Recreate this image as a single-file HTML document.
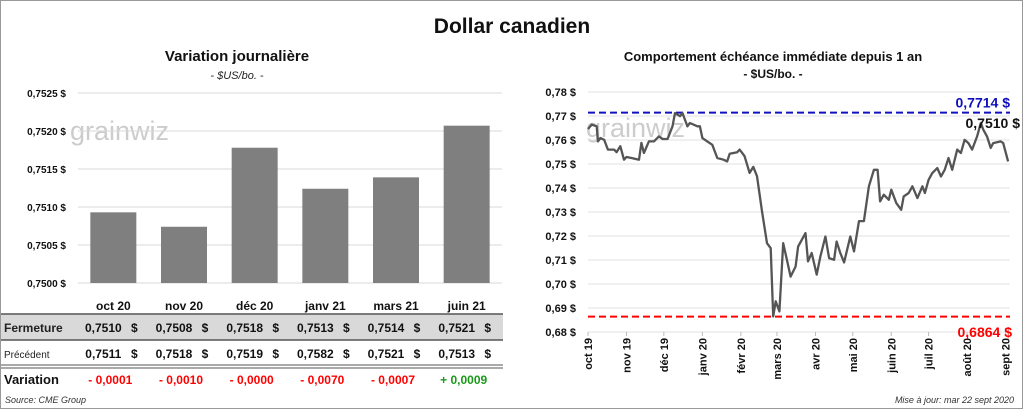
<!DOCTYPE html>
<html><head><meta charset="utf-8"><style>
body{margin:0;width:1024px;height:410px;background:#fff;overflow:hidden;font-family:"Liberation Sans",sans-serif}
svg text{font-family:"Liberation Sans",sans-serif}
</style></head><body>
<svg id="s" width="1024" height="410">
<rect x="0.5" y="0.5" width="1022" height="408" fill="#fff" stroke="#999"/>
<text x="512" y="33" text-anchor="middle" font-size="21" font-weight="bold" fill="#111">Dollar canadien</text>
<text x="237" y="61" text-anchor="middle" font-size="15" font-weight="bold" fill="#111">Variation  journalière</text>
<text x="237" y="79" text-anchor="middle" font-size="11" font-style="italic" fill="#222">- $US/bo. -</text>
<text x="773" y="61" text-anchor="middle" font-size="13" font-weight="bold" fill="#111">Comportement échéance immédiate depuis 1 an</text>
<text x="773" y="78" text-anchor="middle" font-size="12" font-weight="bold" fill="#111">- $US/bo. -</text>
<text x="70" y="140" font-size="27" fill="#ccc">grainwiz</text>
<text x="586" y="137" font-size="27" fill="#ccc">grainwiz</text>
<g id="left"></g><g id="right"></g><g id="table"></g>
<text x="5" y="403" font-size="9" font-style="italic" fill="#333">Source: CME Group</text>
<text x="1014" y="403" text-anchor="end" font-size="9" font-style="italic" fill="#333">Mise à jour: mar 22 sept 2020</text>
</svg>
<script>
const barCats=["oct 20","nov 20","déc 20","janv 21","mars 21","juin 21"];
const barVals=[0.75093,0.75074,0.75178,0.75124,0.75139,0.75207];
const barTicks=[0.7500,0.7505,0.7510,0.7515,0.7520,0.7525];
const closeVals=["0,7510","0,7508","0,7518","0,7513","0,7514","0,7521"];
const prevVals=["0,7511","0,7518","0,7519","0,7582","0,7521","0,7513"];
const varVals=["- 0,0001","- 0,0010","- 0,0000","- 0,0070","- 0,0007","+ 0,0009"];
const lineDays=[0,3,7,8,10,13,16,21,23,26,29,31,35,41,43,45,49,53,57,60,64,68,70,74,76,80,82,88,90,92,96,100,104,109,112,114,120,122,125,126,130,133,136,140,144,147,149,151,154,157,160,163,167,169,172,175,177,180,184,187,191,194,198,200,203,206,211,214,218,222,226,230,233,235,238,242,244,248,252,254,258,261,265,269,271,274,277,281,284,287,290,293,297,300,303,306,309,313,316,318,321,324,326,332,334,338];
const lineVals=[.7646,.7664,.7657,.7594,.7608,.7601,.756,.756,.7549,.7574,.7518,.7529,.7525,.7518,.7588,.7546,.7594,.7594,.7615,.7604,.7604,.7657,.7712,.7699,.7712,.7657,.7671,.7657,.7657,.7608,.7594,.758,.7525,.7518,.7511,.7543,.7549,.756,.7539,.7532,.7463,.7488,.7449,.7303,.717,.7149,.6865,.6928,.6886,.717,.7101,.7031,.7073,.7156,.7184,.7212,.7094,.7129,.7039,.7115,.7198,.7108,.7101,.7177,.7129,.709,.7198,.7136,.7262,.7262,.7407,.7476,.7476,.7344,.7372,.7351,.7393,.7337,.7309,.7365,.7379,.7407,.7358,.7407,.7379,.7434,.7462,.7483,.7448,.7476,.7525,.7476,.756,.7546,.7601,.7587,.756,.7615,.7671,.7643,.7615,.7567,.7587,.7594,.7587,.7511];
const lineTicks=[0.68,0.69,0.70,0.71,0.72,0.73,0.74,0.75,0.76,0.77,0.78];
const monthLabels=["oct 19","nov 19","déc 19","janv 20","févr 20","mars 20","avr 20","mai 20","juin 20","juil 20","août 20","sept 20"];
const monthDays=[0,31,61,92,123,152,183,213,244,274,305,336];
const maxVal=0.7714, minVal=0.6864, lastVal=0.7510;

const NS="http://www.w3.org/2000/svg";
function mk(p,t,a,txt){const e=document.createElementNS(NS,t);for(const k in a)e.setAttribute(k,a[k]);if(txt!==undefined)e.textContent=txt;p.appendChild(e);return e;}
const fmt=(v,d)=>v.toFixed(d).replace('.',',')+' $';

const L=document.getElementById('left');
const lx0=78,lx1=502,ly0=93,ly1=283;
const ly=v=>ly1-(v-0.75)/(0.0025)*(ly1-ly0);
const bw=(lx1-lx0)/barCats.length;
barTicks.forEach(t=>{
 const g=mk(L,'line',{x1:lx0,x2:lx1,y1:ly(t),y2:ly(t),stroke:'#d9d9d9'});
 
 const tx=mk(L,'text',{x:66,y:ly(t)+4,'text-anchor':'end','font-size':10,'font-weight':'bold',fill:'#111'},fmt(t,4));
 
});
barCats.forEach((c,i)=>{
 const cx=lx0+bw*(i+.5);
 const r=mk(L,'rect',{x:cx-23,y:ly(barVals[i]),width:46,height:ly1-ly(barVals[i]),fill:'#7f7f7f'});
 
 const t=mk(L,'text',{x:cx,y:310,'text-anchor':'middle','font-size':12,'font-weight':'bold',fill:'#111'},c);
 
});
const T=document.getElementById('table');
const bg=mk(T,'rect',{x:1,y:314,width:502,height:26,fill:'#d9d9d9'});

[[314,1.5],[340,1.5],[365,1],[368,1]].forEach(([y,w])=>{const l=mk(T,'line',{x1:1,x2:503,y1:y,y2:y,stroke:'#555','stroke-width':w});});
[['Fermeture',332,12,'bold','#222'],['Précédent',358,10,'normal','#222'],['Variation',384,13,'bold','#111']].forEach(([s,y,f,w,c])=>{const t=mk(T,'text',{x:4,y:y,'font-size':f,'font-weight':w,fill:c},s);});
barCats.forEach((c,i)=>{
 const cx=lx0+bw*(i+.5);
 [[closeVals,332],[prevVals,358]].forEach(([arr,y])=>{
  const t=mk(T,'text',{x:cx-10,y:y,'text-anchor':'middle','font-size':12,'font-weight':'bold',fill:'#111'},arr[i]);
  
  const d=mk(T,'text',{x:cx+21,y:y,'text-anchor':'middle','font-size':12,'font-weight':'bold',fill:'#111'},'$');
  
 });
 const v=mk(T,'text',{x:cx-3,y:384,'text-anchor':'middle','font-size':12,'font-weight':'bold',fill:varVals[i][0]=='+'?'#1a9a1a':'#ff0000'},varVals[i]);
 
});
const R=document.getElementById('right');
const rx0=588,rx1=1010,ry0=92,ry1=332,pxd=1.243;
const rx=d=>rx0+d*pxd;
const ry=v=>ry1-(v-0.68)/0.10*(ry1-ry0);
lineTicks.forEach(t=>{
 const g=mk(R,'line',{x1:rx0,x2:rx1,y1:ry(t),y2:ry(t),stroke:'#e0e0e0'});
 
 const tx=mk(R,'text',{x:576,y:ry(t)+4,'text-anchor':'end','font-size':11,'font-weight':'bold',fill:'#111'},fmt(t,2));
 
});
monthLabels.forEach((m,i)=>{
 const x=rx(monthDays[i]);
 const tk=mk(R,'line',{x1:x,x2:x,y1:ry1,y2:ry1+4,stroke:'#bbb'});
 
 const t=mk(R,'text',{x:0,y:0,'text-anchor':'end','font-size':11,'font-weight':'bold',fill:'#111',transform:`translate(${x+4},${ry1+6}) rotate(-90)`},m);
 
});
const hi=mk(R,'line',{x1:rx0,x2:1010,y1:ry(maxVal),y2:ry(maxVal),stroke:'#1010c0','stroke-width':2,'stroke-dasharray':'7,4'});

const lo=mk(R,'line',{x1:rx0,x2:1010,y1:ry(minVal),y2:ry(minVal),stroke:'#ff0000','stroke-width':2,'stroke-dasharray':'7,4'});

const pts=lineDays.map((d,i)=>rx(d).toFixed(1)+','+ry(lineVals[i]).toFixed(1)).join(' ');
const pl=mk(R,'polyline',{points:pts,fill:'none',stroke:'#555','stroke-width':2.3,'stroke-linejoin':'round'});

const t1=mk(R,'text',{x:1010,y:ry(maxVal)-5,'text-anchor':'end','font-size':14,'font-weight':'bold',fill:'#1010c0'},fmt(maxVal,4));

const t2=mk(R,'text',{x:1020,y:128,'text-anchor':'end','font-size':14,'font-weight':'bold',fill:'#111'},fmt(lastVal,4));

const t3=mk(R,'text',{x:1012,y:337,'text-anchor':'end','font-size':14,'font-weight':'bold',fill:'#ff0000'},fmt(minVal,4));

</script>
</body></html>
